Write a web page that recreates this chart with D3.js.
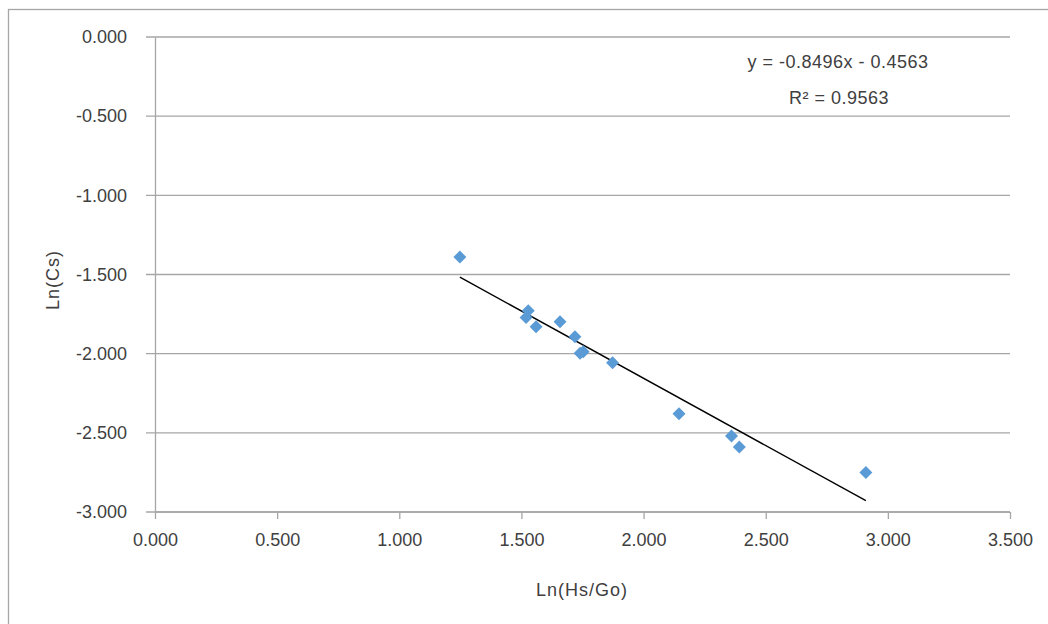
<!DOCTYPE html>
<html>
<head>
<meta charset="utf-8">
<script src="https://cdn.jsdelivr.net/npm/d3@7"></script>
<style>
  body { margin: 0; background: #fff; }
  text { font-family: "Liberation Sans", Arial, sans-serif; fill: #404040; }
</style>
</head>
<body>
<div id="chart"></div>
<script>
// data
const lnHsGo = [1.248, 1.528, 1.519, 1.560, 1.658, 1.719, 1.740, 1.753, 1.873, 2.145, 2.360, 2.392, 2.910];
const lnCs   = [-1.390, -1.729, -1.771, -1.830, -1.798, -1.893, -1.998, -1.988, -2.057, -2.380, -2.520, -2.590, -2.750];
const slope = -0.8496, intercept = -0.4563, r2 = 0.9563;
const xTicks = [0, 0.5, 1, 1.5, 2, 2.5, 3, 3.5];
const yTicks = [0, -0.5, -1, -1.5, -2, -2.5, -3];

const width = 1048, height = 624;
const svg = d3.select("#chart").append("svg")
  .attr("width", width)
  .attr("height", height);

// chart border (runs off the right and bottom edges)
svg.append("rect")
  .attr("x", 8.5).attr("y", 9.5)
  .attr("width", 1100).attr("height", 700)
  .attr("fill", "none")
  .attr("stroke", "#a6a6a6")
  .attr("stroke-width", 1.3);

const x = d3.scaleLinear().domain([0, 3.5]).range([155, 1010]);
const y = d3.scaleLinear().domain([-3, 0]).range([512, 37]);
// plain hyphen for negatives, like Excel
const fmt = d => d.toFixed(3);

// horizontal gridlines
svg.append("g")
  .selectAll("line")
  .data(yTicks)
  .join("line")
    .attr("x1", x(0) - 9).attr("x2", x(3.5))
    .attr("y1", d => y(d)).attr("y2", d => y(d))
    .attr("stroke", "#a6a6a6")
    .attr("stroke-width", 1.3);

// y axis
const yAxis = svg.append("g")
  .attr("transform", `translate(${x(0)},0)`)
  .call(d3.axisLeft(y).tickValues(yTicks).tickFormat(fmt).tickSize(0).tickPadding(28));
yAxis.select(".domain").attr("stroke", "#a6a6a6").attr("stroke-width", 1.3);
yAxis.selectAll("text").style("font-size", "18px").attr("fill", "#404040")
  .attr("font-family", "Liberation Sans, Arial, sans-serif");

// x axis
const xAxis = svg.append("g")
  .attr("transform", `translate(0,${y(-3)})`)
  .call(d3.axisBottom(x).tickValues(xTicks).tickFormat(fmt).tickSize(7).tickPadding(14));
xAxis.select(".domain").attr("stroke", "#a6a6a6").attr("stroke-width", 1.3).attr("d", `M${x(0)},0H${x(3.5)}`);
xAxis.selectAll(".tick line").attr("stroke", "#a6a6a6").attr("stroke-width", 1.3);
xAxis.selectAll("text").style("font-size", "18px").attr("fill", "#404040")
  .attr("font-family", "Liberation Sans, Arial, sans-serif");

// trendline over the data range
const xMin = d3.min(lnHsGo), xMax = d3.max(lnHsGo);
svg.append("line")
  .attr("x1", x(xMin)).attr("y1", y(slope * xMin + intercept))
  .attr("x2", x(xMax)).attr("y2", y(slope * xMax + intercept))
  .attr("stroke", "#000")
  .attr("stroke-width", 1.4);

// markers
const diamond = d3.symbol().type(d3.symbolSquare).size(84);
svg.append("g")
  .selectAll("path")
  .data(lnHsGo.map((v, i) => [v, lnCs[i]]))
  .join("path")
    .attr("d", diamond)
    .attr("transform", d => `translate(${x(d[0])},${y(d[1])}) rotate(45)`)
    .attr("fill", "#5b9bd5");

// equation
svg.append("text")
  .attr("x", 838).attr("y", 68)
  .attr("text-anchor", "middle")
  .style("font-size", "18px")
  .style("letter-spacing", "0.5px")
  .text(`y = ${slope}x - ${Math.abs(intercept)}`);
svg.append("text")
  .attr("x", 839).attr("y", 104)
  .attr("text-anchor", "middle")
  .style("font-size", "18px")
  .style("letter-spacing", "0.5px")
  .text(`R² = ${r2}`);

// axis titles
svg.append("text")
  .attr("x", 582).attr("y", 596)
  .attr("text-anchor", "middle")
  .style("font-size", "18px")
  .style("letter-spacing", "1px")
  .text("Ln(Hs/Go)");
svg.append("text")
  .attr("transform", "translate(59,280) rotate(-90)")
  .attr("text-anchor", "middle")
  .style("font-size", "18px")
  .style("letter-spacing", "1px")
  .text("Ln(Cs)");
</script>
</body>
</html>
